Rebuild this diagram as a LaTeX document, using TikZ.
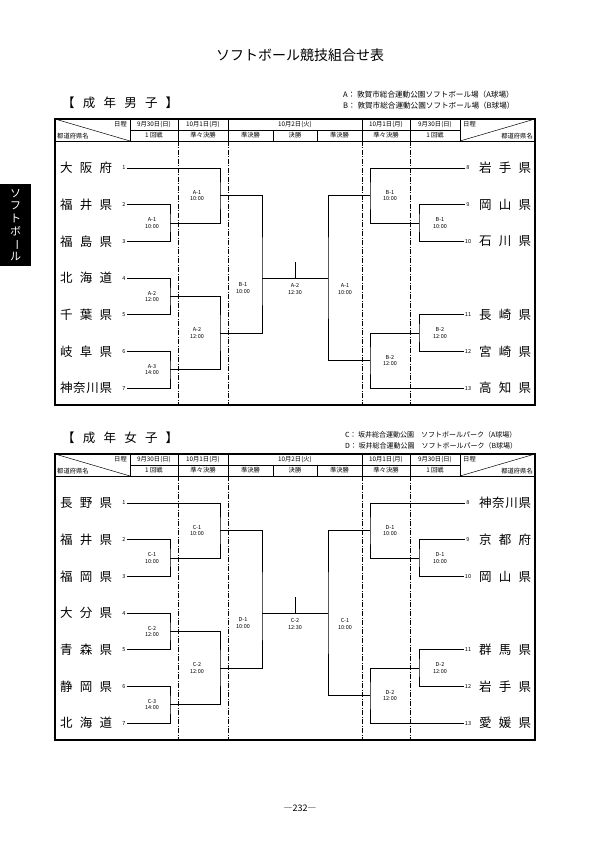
\documentclass[tikz,border=0pt]{standalone}
\usepackage{fontspec}
\setmainfont{Noto Sans CJK JP}
\usetikzlibrary{positioning}

\tikzset{
  waku/.style={line width=1.2pt},
  sen/.style={line width=0.5pt},
  kugiri/.style={line width=0.5pt, dash pattern=on 5pt off 1.5pt on 1pt off 1.5pt},
  tomoe/.style={line width=0.7pt},
  ken/.style={inner sep=0pt, font=\fontsize{12.5}{13}\selectfont},
  bango/.style={inner sep=1pt, font=\fontsize{5.5}{6}\selectfont},
  kumi/.style={inner sep=0pt, align=center, font=\fontsize{5.5}{6.5}\selectfont},
  midashi/.style={inner sep=0pt, font=\fontsize{6.3}{6.3}\selectfont},
  basho/.style={inner sep=0pt, font=\fontsize{7}{7}\selectfont},
}
\newcommand{\kenmei}[1]{\makebox[52pt][s]{#1}}

% frame and header of one table
\newcommand{\hyowaku}{%
  \draw[waku] (55,119) rectangle (535,405);
  \draw[sen] (55,141) -- (535,141);
  \draw[sen] (130,130) -- (460,130);
  \foreach \xx in {130,178,228,362,410,460}
    \draw[sen] (\xx,119) -- (\xx,141);
  \foreach \xx in {273,317}
    \draw[sen] (\xx,130) -- (\xx,141);
  \draw[sen] (55,119) -- (130,141);
  \draw[sen] (460,141) -- (535,119);
  \foreach \xx in {178,228,362,410}
    \draw[kugiri] (\xx,141) -- (\xx,405);
  \node[midashi, anchor=east] (hL) at (127,124.5) {日程};
  \node[midashi, anchor=west] (hR) at (463,124.5) {日程};
  \node[midashi, anchor=west] (kL) at (57,136) {都道府県名};
  \node[midashi, anchor=east] (kR) at (533,136) {都道府県名};
  \foreach \xx/\tx in {154/9月30日(日), 203/10月1日(月), 295/10月2日(火), 386/10月1日(月), 435/9月30日(日)}
    \node[midashi] (hi\xx) at (\xx,124.5) {\tx};
  \foreach \xx/\tx in {154/1 回戦, 203/準々決勝, 250.5/準決勝, 295/決勝, 339.5/準決勝, 386/準々決勝, 435/1 回戦}
    \node[midashi] (ka\xx) at (\xx,135.5) {\tx};
}

% bracket lines, #1 = prefix of the node names
\newcommand{\tomoesen}[1]{%
  \coordinate (#1a1) at (170,223);
  \coordinate (#1a2) at (170,296.4);
  \coordinate (#1a3) at (170,369.7);
  \coordinate (#1b1) at (220,195.5);
  \coordinate (#1b2) at (220,333);
  \coordinate (#1s1) at (262,278);
  \coordinate (#1f) at (295,278);
  \coordinate (#1s2) at (328,278);
  \coordinate (#1d1) at (370,195.5);
  \coordinate (#1d2) at (370,360.5);
  \coordinate (#1c1) at (419,223);
  \coordinate (#1c2) at (419,333);
  \draw[tomoe] (#1n2.east) -| (#1a1) |- (#1n3.east);
  \draw[tomoe] (#1n4.east) -| (#1a2) |- (#1n5.east);
  \draw[tomoe] (#1n6.east) -| (#1a3) |- (#1n7.east);
  \draw[tomoe] (#1n1.east) -| (#1b1) |- (#1a1);
  \draw[tomoe] (#1a2) -| (#1b2) |- (#1a3);
  \draw[tomoe] (#1b1) -| (#1s1) |- (#1b2);
  \draw[tomoe] (#1s1) -- (#1s2);
  \draw[tomoe] (#1f) -- ++(0,-16);
  \draw[tomoe] (#1n9.west) -| (#1c1) |- (#1n10.west);
  \draw[tomoe] (#1n11.west) -| (#1c2) |- (#1n12.west);
  \draw[tomoe] (#1n8.west) -| (#1d1) |- (#1c1);
  \draw[tomoe] (#1c2) -| (#1d2) |- (#1n13.west);
  \draw[tomoe] (#1d1) -| (#1s2) |- (#1d2);
}

\begin{document}
\begin{tikzpicture}[x=1pt,y=-1pt]
\useasboundingbox (0,0) rectangle (595,842);
\fill[white] (0,0) rectangle (595,842);

\node[font=\fontsize{14}{14}\selectfont] (daimei) at (300,55) {ソフトボール競技組合せ表};

% side tab
\fill[black] (0,184) rectangle (31,266);
\node[text=white, align=center, inner sep=0pt, font=\fontsize{11}{12.6}\selectfont] (tsume) at (15.5,225)
  {ソ\\フ\\ト\\ボ\\\rotatebox[origin=c]{-90}{ー}\\ル};

%%% men
\node[ken, anchor=west] (mmidashi) at (62,103)
  {\makebox[116pt][s]{【\hfill 成\hfill 年\hfill 男\hfill 子\hfill 】}};
\node[basho, anchor=west, font=\fontsize{7.6}{7.6}\selectfont] (mbasho1) at (343,95) {A： 敦賀市総合運動公園ソフトボール場（A球場）};
\node[basho, anchor=west, font=\fontsize{7.6}{7.6}\selectfont] (mbasho2) at (343,106) {B： 敦賀市総合運動公園ソフトボール場（B球場）};
\hyowaku
\foreach \k/\nm in {1/{大\hfill 阪\hfill 府}, 2/{福\hfill 井\hfill 県}, 3/{福\hfill 島\hfill 県},
    4/{北\hfill 海\hfill 道}, 5/{千\hfill 葉\hfill 県}, 6/{岐\hfill 阜\hfill 県},
    7/{神\hfill 奈\hfill 川\hfill 県}} {
  \node[ken] (mL\k) at (86,{168+(\k-1)*36.7}) {\kenmei{\nm}};
  \node[bango] (mn\k) at (124,{168+(\k-1)*36.7}) {\k};
}
\foreach \k/\r/\nm in {8/1/{岩\hfill 手\hfill 県}, 9/2/{岡\hfill 山\hfill 県}, 10/3/{石\hfill 川\hfill 県},
    11/5/{長\hfill 崎\hfill 県}, 12/6/{宮\hfill 崎\hfill 県}, 13/7/{高\hfill 知\hfill 県}} {
  \node[bango] (mn\k) at (468,{168+(\r-1)*36.7}) {\k};
  \node[ken] (mR\k) at (505,{168+(\r-1)*36.7}) {\kenmei{\nm}};
}
\tomoesen{m}
\foreach \p/\dx/\dy/\tx in {a1/-18/0/{A-1\\10:00}, a2/-18/0/{A-2\\12:00}, a3/-18/0/{A-3\\14:00},
    b1/-23/0/{A-1\\10:00}, b2/-23/0/{A-2\\12:00}, s1/-19/-10/{B-1\\10:00},
    f/0/-11/{A-2\\12:30}, s2/17/-11/{A-1\\10:00}, d1/20/0/{B-1\\10:00},
    d2/20/0/{B-2\\12:00}, c1/21/0/{B-1\\10:00}, c2/21/0/{B-2\\12:00}}
  \node[kumi] (mt\p) at ([xshift=\dx pt, yshift=\dy pt]m\p) {\tx};

%%% women
\begin{scope}[yshift=-335pt]
\node[ken, anchor=west] (wmidashi) at (62,103)
  {\makebox[116pt][s]{【\hfill 成\hfill 年\hfill 女\hfill 子\hfill 】}};
\node[basho, anchor=west] (wbasho1) at (345,100) {C： 坂井総合運動公園　ソフトボールパーク（A球場）};
\node[basho, anchor=west] (wbasho2) at (345,110.5) {D： 坂井総合運動公園　ソフトボールパーク（B球場）};
\hyowaku
\foreach \k/\nm in {1/{長\hfill 野\hfill 県}, 2/{福\hfill 井\hfill 県}, 3/{福\hfill 岡\hfill 県},
    4/{大\hfill 分\hfill 県}, 5/{青\hfill 森\hfill 県}, 6/{静\hfill 岡\hfill 県},
    7/{北\hfill 海\hfill 道}} {
  \node[ken] (wL\k) at (86,{168+(\k-1)*36.7}) {\kenmei{\nm}};
  \node[bango] (wn\k) at (124,{168+(\k-1)*36.7}) {\k};
}
\foreach \k/\r/\nm in {8/1/{神\hfill 奈\hfill 川\hfill 県}, 9/2/{京\hfill 都\hfill 府}, 10/3/{岡\hfill 山\hfill 県},
    11/5/{群\hfill 馬\hfill 県}, 12/6/{岩\hfill 手\hfill 県}, 13/7/{愛\hfill 媛\hfill 県}} {
  \node[bango] (wn\k) at (468,{168+(\r-1)*36.7}) {\k};
  \node[ken] (wR\k) at (505,{168+(\r-1)*36.7}) {\kenmei{\nm}};
}
\tomoesen{w}
\foreach \p/\dx/\dy/\tx in {a1/-18/0/{C-1\\10:00}, a2/-18/0/{C-2\\12:00}, a3/-18/0/{C-3\\14:00},
    b1/-23/0/{C-1\\10:00}, b2/-23/0/{C-2\\12:00}, s1/-19/-10/{D-1\\10:00},
    f/0/-11/{C-2\\12:30}, s2/17/-11/{C-1\\10:00}, d1/20/0/{D-1\\10:00},
    d2/20/0/{D-2\\12:00}, c1/21/0/{D-1\\10:00}, c2/21/0/{D-2\\12:00}}
  \node[kumi] (wt\p) at ([xshift=\dx pt, yshift=\dy pt]w\p) {\tx};
\end{scope}

\node[font=\fontsize{9}{9}\selectfont] (peji) at (300,808) {―232―};
\end{tikzpicture}
\end{document}
